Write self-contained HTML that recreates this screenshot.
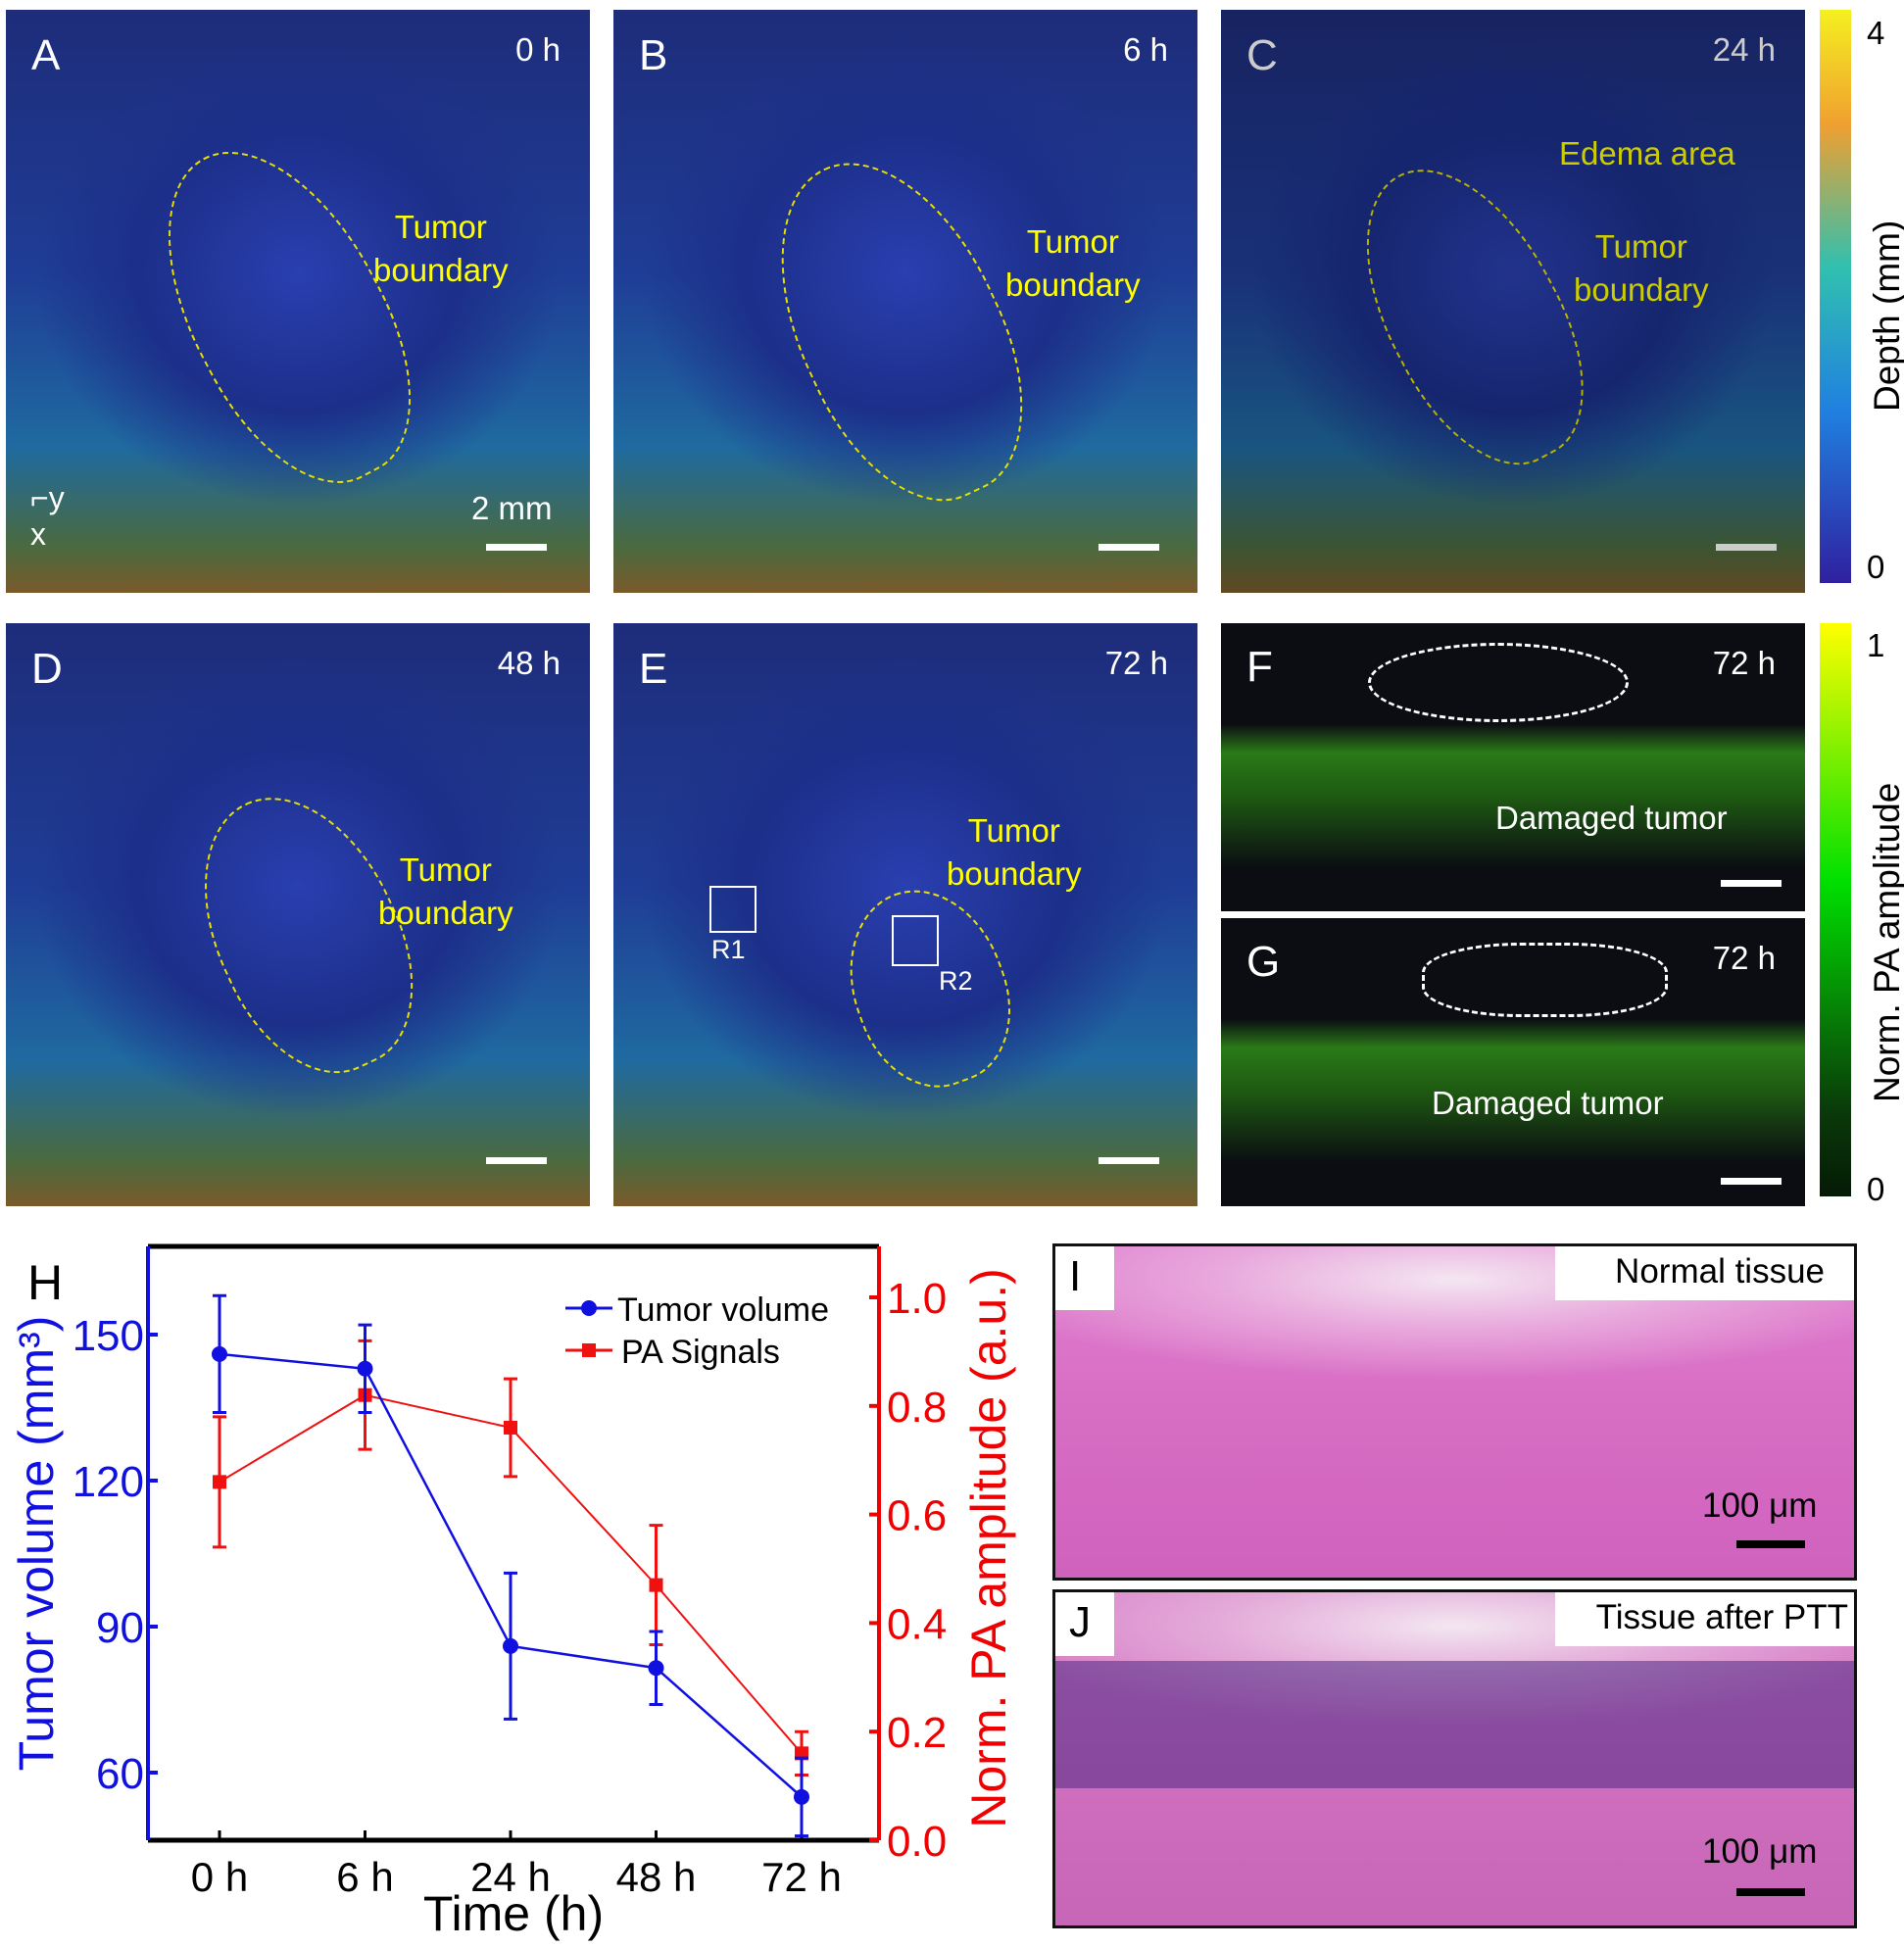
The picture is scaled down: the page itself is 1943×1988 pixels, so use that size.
<!DOCTYPE html>
<html><head><meta charset="utf-8"><style>
body{margin:0;width:1943px;height:1988px;background:#fff;position:relative;overflow:hidden;font-family:"Liberation Sans",sans-serif}
.p{position:absolute;overflow:hidden}
.blue{background:radial-gradient(ellipse 45% 40% at 50% 45%,#2a3fb0 0%,#1c2f8a 60%,transparent 100%),linear-gradient(180deg,#1e2c7a 0%,#1f3d96 45%,#1f6aa0 75%,#4a6a40 92%,#7a5a2a 100%)}
.dark{background:linear-gradient(180deg,#0b0d12 0%,#0b0d12 35%,#2a7a18 45%,#1e5a12 60%,#0b0d12 85%)}
.lbl{position:absolute;color:#fff;font-size:44px}
.t{position:absolute;color:#fff;font-size:33px}
.y{position:absolute;color:#ffff00;font-size:33px;text-align:center;line-height:44px}
.sb{position:absolute;height:7px;width:62px;background:#fff}
.ol{position:absolute;border:2px dashed #e8e000;border-radius:50% 50% 45% 45%}
.ax{position:absolute;color:#fff;font-size:32px}
.pink{background:radial-gradient(ellipse 60% 30% at 50% 10%,#f4e6f2 0%,#e8a8dc 50%,transparent 100%),linear-gradient(180deg,#e07fcf 0%,#d86dc4 50%,#cf62bd 100%)}
</style></head><body>
<div class="p blue" style="left:6px;top:10px;width:596px;height:595px">
<div class="ol" style="left:190px;top:130px;width:190px;height:360px;transform:rotate(-28deg)"></div>
<div class="lbl" style="left:26px;top:22px">A</div>
<div class="t" style="right:30px;top:22px">0 h</div>
<div class="y" style="left:375px;top:200px">Tumor<br>boundary</div>
<div class="ax" style="left:25px;top:480px">⌐y<br>x</div>
<div class="t" style="left:475px;top:490px">2 mm</div>
<div class="sb" style="left:490px;top:545px"></div>
</div>
<div class="p blue" style="left:626px;top:10px;width:596px;height:595px">
<div class="ol" style="left:190px;top:145px;width:200px;height:360px;transform:rotate(-25deg)"></div>
<div class="lbl" style="left:26px;top:22px">B</div>
<div class="t" style="right:30px;top:22px">6 h</div>
<div class="y" style="left:400px;top:215px">Tumor<br>boundary</div>
<div class="sb" style="left:495px;top:545px"></div>
</div>
<div class="p blue" style="left:1246px;top:10px;width:596px;height:595px;filter:brightness(.8)">
<div class="ol" style="left:170px;top:150px;width:170px;height:320px;transform:rotate(-28deg)"></div>
<div class="lbl" style="left:26px;top:22px">C</div>
<div class="t" style="right:30px;top:22px">24 h</div>
<div class="y" style="left:345px;top:125px">Edema area</div>
<div class="y" style="left:360px;top:220px">Tumor<br>boundary</div>
<div class="sb" style="left:505px;top:545px"></div>
</div>
<div class="p" style="left:1857px;top:10px;width:32px;height:585px;background:linear-gradient(180deg,#f5f020,#f0a030 20%,#30c0b0 45%,#2080e0 70%,#3020a0)"></div>
<div style="position:absolute;left:1905px;top:15px;font-size:33px">4</div>
<div style="position:absolute;left:1905px;top:560px;font-size:33px">0</div>
<div style="position:absolute;left:1905px;top:420px;font-size:37px;transform:rotate(-90deg);transform-origin:0 0;white-space:nowrap">Depth (mm)</div>

<div class="p blue" style="left:6px;top:636px;width:596px;height:595px">
<div class="ol" style="left:215px;top:170px;width:180px;height:290px;transform:rotate(-25deg)"></div>
<div class="lbl" style="left:26px;top:22px">D</div>
<div class="t" style="right:30px;top:22px">48 h</div>
<div class="y" style="left:380px;top:230px">Tumor<br>boundary</div>
<div class="sb" style="left:490px;top:545px"></div>
</div>
<div class="p blue" style="left:626px;top:636px;width:596px;height:595px">
<div class="ol" style="left:245px;top:270px;width:150px;height:200px;transform:rotate(-20deg)"></div>
<div class="lbl" style="left:26px;top:22px">E</div>
<div class="t" style="right:30px;top:22px">72 h</div>
<div class="y" style="left:340px;top:190px">Tumor<br>boundary</div>
<div style="position:absolute;left:98px;top:268px;width:44px;height:44px;border:2px solid #fff"></div>
<div class="t" style="left:100px;top:318px;font-size:27px">R1</div>
<div style="position:absolute;left:284px;top:298px;width:44px;height:48px;border:2px solid #fff"></div>
<div class="t" style="left:332px;top:350px;font-size:27px">R2</div>
<div class="sb" style="left:495px;top:545px"></div>
</div>
<div class="p dark" style="left:1246px;top:636px;width:596px;height:294px">
<div class="lbl" style="left:26px;top:20px">F</div>
<div class="t" style="right:30px;top:22px">72 h</div>
<div style="position:absolute;left:150px;top:20px;width:260px;height:75px;border:3px dashed #fff;border-radius:50%"></div>
<div class="t" style="left:280px;top:180px">Damaged tumor</div>
<div class="sb" style="left:510px;top:262px"></div>
</div>
<div class="p dark" style="left:1246px;top:937px;width:596px;height:294px">
<div class="lbl" style="left:26px;top:20px">G</div>
<div class="t" style="right:30px;top:22px">72 h</div>
<div style="position:absolute;left:205px;top:25px;width:245px;height:70px;border:3px dashed #fff;border-radius:40%"></div>
<div class="t" style="left:215px;top:170px">Damaged tumor</div>
<div class="sb" style="left:510px;top:265px"></div>
</div>
<div class="p" style="left:1857px;top:636px;width:32px;height:585px;background:linear-gradient(180deg,#ffff00,#00e000 45%,#0a3a0a 85%,#051a05)"></div>
<div style="position:absolute;left:1905px;top:640px;font-size:33px">1</div>
<div style="position:absolute;left:1905px;top:1195px;font-size:33px">0</div>
<div style="position:absolute;left:1905px;top:1125px;font-size:37px;transform:rotate(-90deg);transform-origin:0 0;white-space:nowrap">Norm. PA amplitude</div>

<div class="p pink" style="left:1074px;top:1269px;width:815px;height:338px;border:3px solid #111">
<div style="position:absolute;left:0;top:0;width:60px;height:65px;background:#fff"></div>
<div style="position:absolute;left:14px;top:6px;font-size:44px">I</div>
<div style="position:absolute;right:0;top:0;width:305px;height:55px;background:#fff"></div>
<div style="position:absolute;right:30px;top:6px;font-size:35px">Normal tissue</div>
<div style="position:absolute;left:660px;top:245px;font-size:35px">100 μm</div>
<div style="position:absolute;left:695px;top:300px;width:70px;height:8px;background:#000"></div>
</div>
<div class="p pink" style="left:1074px;top:1622px;width:815px;height:340px;border:3px solid #111;filter:saturate(.9)">
<div style="position:absolute;left:0;top:70px;width:100%;height:130px;background:rgba(80,40,140,.55)"></div>
<div style="position:absolute;left:0;top:0;width:60px;height:65px;background:#fff"></div>
<div style="position:absolute;left:14px;top:6px;font-size:44px">J</div>
<div style="position:absolute;right:0;top:0;width:305px;height:55px;background:#fff"></div>
<div style="position:absolute;right:6px;top:6px;font-size:35px">Tissue after PTT</div>
<div style="position:absolute;left:660px;top:245px;font-size:35px">100 μm</div>
<div style="position:absolute;left:695px;top:302px;width:70px;height:8px;background:#000"></div>
</div>

<svg id="chart" style="position:absolute;left:0;top:0" width="1943" height="1988"></svg>
<script>
const categories=["0 h","6 h","24 h","48 h","72 h"];
const volume=[146,143,86,81.5,55];
const volumeErr=[12,9,15,7.5,8];
const paSignal=[0.66,0.82,0.76,0.47,0.16];
const paErr=[0.12,0.1,0.09,0.11,0.04];
const leftTicks=[60,90,120,150];
const rightTicks=[0.0,0.2,0.4,0.6,0.8,1.0];
const NS="http://www.w3.org/2000/svg";
const svg=document.getElementById('chart');
const X0=151,X1=897,T=1272,B=1878;
const xs=i=>224+i*148.5;
const yL=v=>1362+(150-v)*(1809-1362)/90;
const yR=v=>1878-v*(1878-1324);
function mk(tag,attrs,text){const e=document.createElementNS(NS,tag);for(const k in attrs)e.setAttribute(k,attrs[k]);if(text!==undefined)e.textContent=text;svg.appendChild(e);return e;}
let e;
e=mk('line',{x1:X0,y1:T,x2:X1,y2:T,stroke:'#000','stroke-width':5});


e=mk('line',{x1:X0,y1:B,x2:X1,y2:B,stroke:'#000','stroke-width':5});


e=mk('line',{x1:X0,y1:T,x2:X0,y2:B,stroke:'#1010e0','stroke-width':4});


e=mk('line',{x1:X1,y1:T,x2:X1,y2:B,stroke:'#f00000','stroke-width':4});


leftTicks.forEach(v=>{
 e=mk('line',{x1:X0,y1:yL(v),x2:X0+10,y2:yL(v),stroke:'#1010e0','stroke-width':4});
 
 
 e=mk('text',{x:X0-4,y:yL(v)+16,'text-anchor':'end','font-size':44,fill:'#1010e0'},String(v));
 
 
});
rightTicks.forEach(v=>{
 e=mk('line',{x1:X1,y1:yR(v),x2:X1-10,y2:yR(v),stroke:'#f00000','stroke-width':4});
 
 
 e=mk('text',{x:X1+8,y:yR(v)+16,'font-size':44,fill:'#f00000'},v.toFixed(1));
 
 
});
categories.forEach((c,i)=>{
 e=mk('line',{x1:xs(i),y1:B,x2:xs(i),y2:B-10,stroke:'#000','stroke-width':3});
 
 
 e=mk('text',{x:xs(i),y:B+52,'text-anchor':'middle','font-size':42},c);
 
 
});
e=mk('text',{x:524,y:1970,'text-anchor':'middle','font-size':50},'Time (h)');


e=mk('text',{x:0,y:0,'text-anchor':'middle','font-size':50,fill:'#1010e0',transform:'translate(54,1575) rotate(-90)'},'Tumor volume (mm³)');


e=mk('text',{x:0,y:0,'text-anchor':'middle','font-size':50,fill:'#f00000',transform:'translate(1026,1580) rotate(-90)'},'Norm. PA amplitude (a.u.)');


e=mk('text',{x:28,y:1326,'font-size':50},'H');


function series(vals,errs,yf,col,w,name,marker){
 e=mk('polyline',{points:vals.map((v,i)=>xs(i)+','+yf(v)).join(' '),fill:'none',stroke:col,'stroke-width':w});
 
 
 vals.forEach((v,i)=>{
  const x=xs(i),a=yf(v+errs[i]),b=yf(v-errs[i]);
  e=mk('path',{d:`M${x},${a}V${b}M${x-7},${a}H${x+7}M${x-7},${b}H${x+7}`,stroke:col,'stroke-width':3,fill:'none'});
  
  
  if(marker==='c')e=mk('circle',{cx:x,cy:yf(v),r:8,fill:col});
  else e=mk('rect',{x:x-7,y:yf(v)-7,width:14,height:14,fill:col});
  
  
 });
}
series(paSignal,paErr,yR,'#f01010',2,'pa-signal','s');
series(volume,volumeErr,yL,'#1010e0',2.5,'tumor-volume','c');
e=mk('path',{d:'M577,1335H625',stroke:'#1010e0','stroke-width':3});


e=mk('circle',{cx:601,cy:1335,r:8,fill:'#1010e0'});


e=mk('text',{x:630,y:1348,'font-size':34},'Tumor volume');


e=mk('path',{d:'M577,1378H625',stroke:'#f01010','stroke-width':3});


e=mk('rect',{x:594,y:1371,width:14,height:14,fill:'#f01010'});


e=mk('text',{x:634,y:1391,'font-size':34},'PA Signals');


</script>
</body></html>
